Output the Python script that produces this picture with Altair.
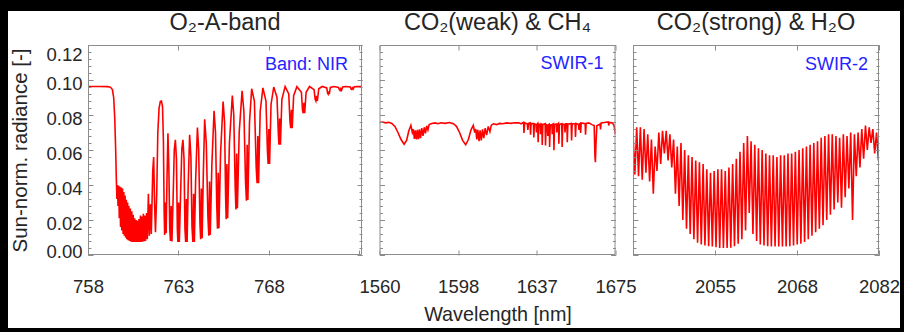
import altair as alt
import pandas as pd

# ---------------- data ----------------
# O2 A-band (NIR)
o2_wl = [758.00, 758.60, 759.10, 759.25, 759.35, 759.42, 759.48, 759.53, 759.57, 759.60,
         759.63, 759.66, 759.70, 759.73, 759.77, 759.80, 759.84, 759.87, 759.91, 759.94,
         759.98, 760.01, 760.05, 760.08, 760.12, 760.15, 760.19, 760.22, 760.26, 760.30,
         760.34, 760.38, 760.42, 760.46, 760.50, 760.54, 760.58, 760.62, 760.66, 760.70,
         760.74, 760.78, 760.82, 760.86, 760.90, 760.94, 760.98, 761.02, 761.06, 761.10,
         761.14, 761.18, 761.24, 761.28, 761.34, 761.39, 761.45, 761.50, 761.58, 761.63,
         761.68, 761.73, 761.80, 761.86, 761.93, 762.00, 762.06, 762.12, 762.17, 762.21,
         762.24, 762.28, 762.32, 762.37, 762.42, 762.47, 762.52, 762.56, 762.60, 762.64,
         762.70, 762.77, 762.83, 762.89, 762.94, 762.97, 763.01, 763.05, 763.12, 763.19,
         763.25, 763.31, 763.36, 763.40, 763.44, 763.48, 763.54, 763.62, 763.69, 763.75,
         763.80, 763.84, 763.88, 763.95, 764.05, 764.12, 764.19, 764.23, 764.27, 764.31,
         764.38, 764.45, 764.54, 764.63, 764.68, 764.72, 764.76, 764.85, 764.97, 765.05,
         765.12, 765.16, 765.20, 765.24, 765.33, 765.47, 765.55, 765.61, 765.64, 765.68,
         765.72, 765.82, 765.98, 766.06, 766.14, 766.18, 766.22, 766.26, 766.36, 766.52,
         766.62, 766.71, 766.76, 766.80, 766.84, 766.93, 767.05, 767.20, 767.30, 767.35,
         767.39, 767.43, 767.52, 767.67, 767.84, 767.92, 767.96, 768.00, 768.04, 768.12,
         768.27, 768.45, 768.53, 768.56, 768.60, 768.64, 768.72, 768.90, 769.10, 769.17,
         769.21, 769.25, 769.29, 769.37, 769.55, 769.80, 769.86, 769.90, 769.94, 769.98,
         770.06, 770.25, 770.50, 770.56, 770.60, 770.64, 770.68, 770.76, 770.95, 771.20,
         771.25, 771.28, 771.31, 771.34, 771.40, 771.60, 771.85, 771.90, 771.94, 771.98,
         772.02, 772.08, 772.25, 772.50, 772.55, 772.58, 772.62, 772.66, 772.72, 772.90,
         773.15]
o2_rad = [0.0963, 0.0963, 0.0962, 0.0958, 0.0945, 0.0900, 0.0780, 0.0600, 0.0420, 0.0320,
          0.0400, 0.0280, 0.0395, 0.0210, 0.0390, 0.0160, 0.0385, 0.0140, 0.0380, 0.0120,
          0.0360, 0.0110, 0.0340, 0.0100, 0.0315, 0.0090, 0.0300, 0.0085, 0.0280, 0.0080,
          0.0265, 0.0076, 0.0250, 0.0075, 0.0230, 0.0074, 0.0210, 0.0074, 0.0200, 0.0074,
          0.0195, 0.0074, 0.0205, 0.0074, 0.0225, 0.0075, 0.0220, 0.0076, 0.0235, 0.0078,
          0.0225, 0.0080, 0.0240, 0.0090, 0.0350, 0.0110, 0.0290, 0.0120, 0.0480, 0.0560,
          0.0300, 0.0130, 0.0350, 0.0700, 0.0840, 0.0878, 0.0880, 0.0850, 0.0650, 0.0250,
          0.0115, 0.0300, 0.0125, 0.0450, 0.0696, 0.0500, 0.0150, 0.0080, 0.0280, 0.0077,
          0.0300, 0.0600, 0.0658, 0.0550, 0.0150, 0.0074, 0.0300, 0.0074, 0.0350, 0.0610,
          0.0658, 0.0550, 0.0150, 0.0074, 0.0320, 0.0074, 0.0400, 0.0687, 0.0560, 0.0160,
          0.0074, 0.0350, 0.0075, 0.0420, 0.0729, 0.0600, 0.0180, 0.0090, 0.0380, 0.0096,
          0.0480, 0.0776, 0.0640, 0.0220, 0.0110, 0.0420, 0.0115, 0.0520, 0.0824, 0.0700,
          0.0280, 0.0150, 0.0470, 0.0153, 0.0580, 0.0877, 0.0760, 0.0330, 0.0205, 0.0520,
          0.0210, 0.0640, 0.0911, 0.0800, 0.0380, 0.0260, 0.0580, 0.0267, 0.0700, 0.0938,
          0.0820, 0.0420, 0.0310, 0.0630, 0.0315, 0.0760, 0.0950, 0.0880, 0.0500, 0.0410,
          0.0680, 0.0410, 0.0820, 0.0955, 0.0880, 0.0600, 0.0520, 0.0720, 0.0520, 0.0860,
          0.0960, 0.0900, 0.0680, 0.0630, 0.0780, 0.0630, 0.0890, 0.0962, 0.0920, 0.0760,
          0.0725, 0.0830, 0.0725, 0.0910, 0.0962, 0.0930, 0.0830, 0.0810, 0.0870, 0.0810,
          0.0930, 0.0963, 0.0945, 0.0890, 0.0880, 0.0910, 0.0880, 0.0950, 0.0963, 0.0955,
          0.0925, 0.0920, 0.0935, 0.0920, 0.0958, 0.0963, 0.0958, 0.0945, 0.0940, 0.0950,
          0.0942, 0.0960, 0.0963, 0.0960, 0.0948, 0.0946, 0.0955, 0.0948, 0.0961, 0.0963,
          0.0962]

# CO2 (weak) & CH4 (SWIR-1)
swir1_wl = [1560.0, 1561.5, 1563.0, 1564.5, 1566.0, 1567.5, 1569.0, 1570.5, 1572.0, 1573.2,
            1574.3, 1575.3, 1576.0, 1576.5, 1577.0, 1577.5, 1578.0, 1578.5, 1579.0, 1579.5,
            1580.0, 1580.6, 1581.2, 1581.8, 1582.4, 1583.0, 1583.6, 1584.2, 1585.5, 1587.0,
            1588.5, 1590.0, 1592.0, 1594.0, 1596.0, 1597.5, 1599.0, 1600.5, 1602.0, 1603.3,
            1604.6, 1605.7, 1606.4, 1606.9, 1607.4, 1607.9, 1608.5, 1609.0, 1609.6, 1610.2,
            1610.8, 1611.5, 1612.2, 1613.0, 1613.8, 1614.5, 1615.5, 1617.0, 1618.5, 1620.0,
            1622.0, 1624.0, 1626.0, 1627.9, 1629.0,
            1630.2, 1630.4, 1630.7, 1632.0, 1632.3, 1632.6, 1633.4, 1633.6, 1633.9,
            1635.0, 1635.2, 1635.5, 1636.3, 1636.5, 1636.8, 1637.1, 1637.3, 1637.6,
            1638.3, 1638.5, 1638.8, 1639.1, 1639.3, 1639.6, 1640.7, 1640.9, 1641.2,
            1641.8, 1642.0, 1642.3, 1642.7, 1642.9, 1643.2, 1644.0, 1644.2, 1644.5,
            1644.8, 1645.0, 1645.3, 1646.2, 1646.4, 1646.7, 1647.2, 1647.4, 1647.7,
            1648.8, 1649.0, 1649.3, 1650.2, 1650.4, 1650.7, 1651.3, 1651.5, 1651.8,
            1653.4, 1653.6, 1653.9, 1655.3, 1655.5, 1655.8, 1657.0, 1657.2, 1657.5,
            1657.8, 1658.0, 1658.3, 1660.2, 1660.4, 1660.7, 1662.0, 1663.5,
            1664.6, 1665.0, 1665.2, 1665.5, 1665.9, 1667.5, 1667.7, 1668.0,
            1669.5, 1671.5, 1671.7, 1672.0, 1673.5, 1674.3, 1675.0]
swir1_rad = [0.0757, 0.0760, 0.0755, 0.0758, 0.0752, 0.0735, 0.0700, 0.0660, 0.0633, 0.0655,
             0.0710, 0.0741, 0.0700, 0.0718, 0.0664, 0.0712, 0.0660, 0.0715, 0.0662, 0.0718,
             0.0668, 0.0725, 0.0680, 0.0730, 0.0695, 0.0738, 0.0715, 0.0745, 0.0752, 0.0755,
             0.0750, 0.0756, 0.0752, 0.0757, 0.0750, 0.0735, 0.0700, 0.0655, 0.0630, 0.0660,
             0.0715, 0.0740, 0.0700, 0.0720, 0.0660, 0.0715, 0.0650, 0.0712, 0.0655, 0.0718,
             0.0668, 0.0725, 0.0685, 0.0735, 0.0705, 0.0742, 0.0750, 0.0745, 0.0752, 0.0750,
             0.0755, 0.0752, 0.0756, 0.0755, 0.0750,
             0.0758, 0.0697, 0.0755, 0.0750, 0.0715, 0.0752, 0.0755, 0.0688, 0.0752,
             0.0750, 0.0672, 0.0750, 0.0745, 0.0700, 0.0748, 0.0752, 0.0645, 0.0748,
             0.0745, 0.0690, 0.0750, 0.0748, 0.0628, 0.0745, 0.0750, 0.0626, 0.0745,
             0.0740, 0.0680, 0.0745, 0.0748, 0.0617, 0.0742, 0.0745, 0.0690, 0.0748,
             0.0750, 0.0598, 0.0745, 0.0748, 0.0700, 0.0745, 0.0752, 0.0636, 0.0745,
             0.0750, 0.0617, 0.0748, 0.0745, 0.0700, 0.0750, 0.0750, 0.0645, 0.0748,
             0.0752, 0.0655, 0.0750, 0.0750, 0.0675, 0.0752, 0.0745, 0.0715, 0.0750,
             0.0752, 0.0697, 0.0755, 0.0750, 0.0688, 0.0752, 0.0755, 0.0745,
             0.0740, 0.0560, 0.0530, 0.0640, 0.0738, 0.0748, 0.0718, 0.0755,
             0.0757, 0.0760, 0.0740, 0.0758, 0.0755, 0.0740, 0.0690]

# CO2 (strong) & H2O (SWIR-2)
swir2_wl = [2042.0, 2042.3, 2042.6, 2042.9, 2043.2, 2043.5, 2043.8, 2044.1, 2044.4, 2044.7,
            2045.0, 2045.3, 2045.6, 2045.9, 2046.2, 2046.5, 2046.8, 2047.1, 2047.4, 2047.7,
            2048.0, 2048.3, 2048.6, 2048.9, 2049.2, 2049.5, 2049.8, 2050.1, 2050.4, 2050.7,
            2051.0, 2051.3, 2051.6, 2051.9, 2052.2, 2052.5, 2052.8, 2053.1, 2053.4, 2053.7,
            2054.0, 2054.3, 2054.6, 2054.9, 2055.2, 2055.5, 2055.8, 2056.1, 2056.4, 2056.7,
            2057.0, 2057.3, 2057.6, 2057.9, 2058.2, 2058.5, 2058.8, 2059.1, 2059.4, 2059.7,
            2060.0, 2060.3, 2060.6, 2060.9, 2061.2, 2061.5, 2061.8, 2062.1, 2062.4, 2062.7,
            2063.0, 2063.3, 2063.6, 2063.9, 2064.2, 2064.5, 2064.8, 2065.1, 2065.4, 2065.7,
            2066.0, 2066.3, 2066.6, 2066.9, 2067.2, 2067.5, 2067.8, 2068.1, 2068.4, 2068.7,
            2069.0, 2069.3, 2069.6, 2069.9, 2070.2, 2070.5, 2070.8, 2071.1, 2071.4, 2071.7,
            2072.0, 2072.3, 2072.6, 2072.9, 2073.2, 2073.5, 2073.8, 2074.1, 2074.4, 2074.7,
            2075.0, 2075.3, 2075.6, 2075.9, 2076.2, 2076.5, 2076.8, 2077.1, 2077.4, 2077.7,
            2078.0, 2078.3, 2078.6, 2078.9, 2079.2, 2079.5, 2079.8, 2080.1, 2080.4, 2080.7,
            2081.0, 2081.3, 2081.6, 2081.9]
swir2_rad = [0.0700, 0.0460, 0.0730, 0.0450, 0.0730, 0.0430, 0.0720, 0.0470, 0.0690, 0.0420,
             0.0660, 0.0350, 0.0620, 0.0480, 0.0700, 0.0520, 0.0710, 0.0580, 0.0710, 0.0540,
             0.0690, 0.0500, 0.0660, 0.0350, 0.0620, 0.0280, 0.0640, 0.0200, 0.0600, 0.0150,
             0.0570, 0.0120, 0.0560, 0.0090, 0.0540, 0.0070, 0.0530, 0.0060, 0.0520, 0.0055,
             0.0490, 0.0050, 0.0470, 0.0048, 0.0480, 0.0045, 0.0490, 0.0040, 0.0490, 0.0040,
             0.0480, 0.0040, 0.0500, 0.0042, 0.0520, 0.0050, 0.0550, 0.0065, 0.0590, 0.0090,
             0.0640, 0.0140, 0.0680, 0.0240, 0.0650, 0.0120, 0.0630, 0.0080, 0.0610, 0.0060,
             0.0600, 0.0055, 0.0580, 0.0050, 0.0570, 0.0048, 0.0570, 0.0048, 0.0560, 0.0048,
             0.0570, 0.0048, 0.0570, 0.0049, 0.0580, 0.0050, 0.0580, 0.0055, 0.0590, 0.0060,
             0.0600, 0.0065, 0.0610, 0.0075, 0.0620, 0.0090, 0.0630, 0.0110, 0.0640, 0.0130,
             0.0650, 0.0150, 0.0670, 0.0170, 0.0680, 0.0200, 0.0690, 0.0230, 0.0690, 0.0260,
             0.0680, 0.0300, 0.0670, 0.0270, 0.0690, 0.0330, 0.0680, 0.0380, 0.0700, 0.0200,
             0.0690, 0.0450, 0.0700, 0.0500, 0.0720, 0.0550, 0.0740, 0.0600, 0.0730, 0.0640,
             0.0720, 0.0580, 0.0700, 0.0540]

titles = ["O\u2082-A-band", "CO\u2082(weak) & CH\u2084", "CO\u2082(strong) & H\u2082O"]
band_names = ["Band: NIR", "SWIR-1", "SWIR-2"]
x_domains = [[758.0, 773.15], [1560.0, 1675.0], [2042.0, 2082.0]]
x_ticks = [[758.0, 763.0, 768.0, 773.0],
           [1560.0, 1598.333, 1636.667, 1675.0],
           [2042.0, 2055.333, 2068.667, 2082.0]]
x_tick_labels = [["758", "763", "768", ""],
                 ["1560", "1598", "1637", "1675"],
                 ["", "2055", "2068", "2082"]]
y_major = [0.00, 0.02, 0.04, 0.06, 0.08, 0.10, 0.12]
y_minor = [round(i * 0.004, 3) for i in range(31)]

# ---------------- styling ----------------
FONT = "Liberation Sans"
RED = "#ff0000"
GRAY = "#8c8c8c"
TXT = "#262626"
H = 210
WIDTHS = [274, 236, 246]
BAND_DX = [14, 12, 11]
BAND_DY = [24.5, 23.5, 24.5]
TITLE_OFFSETS = [-42, -8.5, -8.5]

one_row = pd.DataFrame({"k": [0]})


def panel(i, wl, rad):
    df = pd.DataFrame({"wl": wl, "rad": rad})
    w = WIDTHS[i]
    xs = alt.Scale(domain=x_domains[i], nice=False, zero=False)
    ys = alt.Scale(domain=[0.0, 0.12], nice=False, zero=False)
    lab = "[" + ",".join("'%s'" % t for t in x_tick_labels[i]) + "]"
    lab_expr = lab + "[round(datum.index*%d)]" % (len(x_ticks[i]) - 1)

    x_bottom = alt.Axis(orient="bottom", values=x_ticks[i], labelExpr=lab_expr,
                        offset=-5, tickSize=5, labelPadding=22, labelFlush=False,
                        labelFontSize=18.5, zindex=2,
                        title="Wavelength [nm]" if i == 1 else None,
                        titlePadding=9, titleFontSize=19.8)
    if i == 0:
        y_left = alt.Axis(orient="left", values=y_major, format=".2f", offset=-5,
                          tickSize=5, labelPadding=6, labelOffset=3, zindex=2,
                          labelFlush=True, labelFlushOffset=3, labelFontSize=18.5,
                          title="Sun-norm. radiance [-]", titlePadding=15,
                          titleFontSize=20.5)
    else:
        y_left = alt.Axis(orient="left", values=y_major, labels=False, offset=-5,
                          tickSize=5, title=None, zindex=2)

    line = alt.Chart(df).mark_line(color=RED, strokeWidth=1.6, clip=True).encode(
        x=alt.X("wl:Q", scale=xs, axis=x_bottom),
        y=alt.Y("rad:Q", scale=ys, axis=y_left),
    )
    helper_a = alt.Chart(df).mark_line(strokeOpacity=0).encode(
        x=alt.X("wl:Q", scale=xs, axis=alt.Axis(orient="top", values=x_ticks[i],
                                                 labels=False, offset=-5, tickSize=5,
                                                 title=None, zindex=2)),
        y=alt.Y("rad:Q", scale=ys, axis=alt.Axis(orient="left", values=y_minor,
                                                  labels=False, offset=-3, tickSize=3,
                                                  title=None, zindex=2)),
    )
    helper_b = alt.Chart(df).mark_line(strokeOpacity=0).encode(
        x=alt.X("wl:Q", scale=xs, axis=None),
        y=alt.Y("rad:Q", scale=ys, axis=alt.Axis(orient="right", values=y_major,
                                                  labels=False, offset=-5, tickSize=5,
                                                  title=None, zindex=2)),
    )
    helper_c = alt.Chart(df).mark_line(strokeOpacity=0).encode(
        x=alt.X("wl:Q", scale=xs, axis=None),
        y=alt.Y("rad:Q", scale=ys, axis=alt.Axis(orient="right", values=y_minor,
                                                  labels=False, offset=-3, tickSize=3,
                                                  title=None, zindex=2)),
    )
    frame = alt.Chart(one_row).mark_rect(fillOpacity=0, stroke=GRAY, strokeWidth=1).encode(
        x=alt.value(0.5), x2=alt.value(w - 0.5), y=alt.value(0.5), y2=alt.value(H - 0.5)
    )
    band = alt.Chart(one_row).mark_text(
        text=band_names[i], align="right", baseline="alphabetic", font=FONT,
        fontSize=18, color="#2424ff"
    ).encode(x=alt.value(w - BAND_DX[i]), y=alt.value(BAND_DY[i]))

    layers = [line, frame, band, helper_a, helper_b, helper_c]
    if i == 0:
        white = alt.Chart(one_row).mark_rect(color="white").encode(
            x=alt.value(-80), x2=alt.value(812), y=alt.value(-34), y2=alt.value(283)
        )
        layers = [white] + layers

    return alt.layer(*layers).resolve_axis(x="independent", y="independent").properties(
        width=w, height=H,
        title=alt.TitleParams(titles[i], font=FONT, fontSize=23.5, fontWeight="normal",
                              color=TXT, anchor="middle", frame="group",
                              baseline="alphabetic", offset=TITLE_OFFSETS[i], zindex=2),
    )


chart = alt.hconcat(
    panel(0, o2_wl, o2_rad),
    panel(1, swir1_wl, swir1_rad),
    panel(2, swir2_wl, swir2_rad),
    spacing=17.5, bounds="flush",
).properties(
    padding={"left": 8, "top": 10, "right": 4, "bottom": 5},
    background="black",
).configure_view(stroke=None).configure_axis(
    domain=False, grid=False, tickColor=GRAY, tickWidth=1,
    labelFont=FONT, labelColor=TXT, titleFont=FONT, titleColor=TXT,
    titleFontWeight="normal",
)

chart.save("out.html", embed_options={"renderer": "svg", "actions": False})
